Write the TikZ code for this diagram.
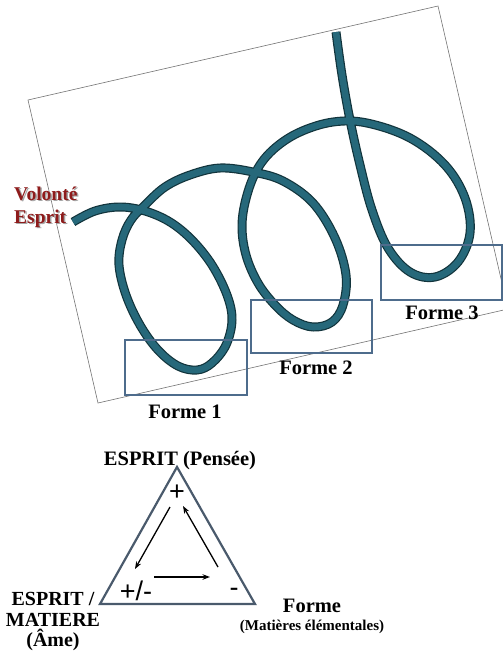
\documentclass[tikz,border=0pt]{standalone}
\usepackage{fontspec}
\setmainfont{Liberation Serif}
\setsansfont{Liberation Sans}
\usetikzlibrary{arrows.meta}
\definecolor{spiralfill}{HTML}{26687A}
\definecolor{spiraledge}{HTML}{12343C}
\definecolor{boxcol}{HTML}{4E6C8C}
\definecolor{tricol}{HTML}{4A5A6C}
\definecolor{volcol}{HTML}{8E1B1B}
\tikzset{
  paper/.style={draw=black!55, line width=0.6pt},
  spiralout/.style={draw=spiraledge, line width=9pt, line cap=butt, line join=round},
  spiralin/.style={draw=spiralfill, line width=6.6pt, line cap=butt, line join=round},
  formebox/.style={draw=boxcol, line width=1.6pt},
  biglbl/.style={font=\bfseries\fontsize{20.5}{22}\selectfont, inner sep=0pt},
  smalllbl/.style={font=\bfseries\fontsize{15}{16}\selectfont, inner sep=0pt},
  sign/.style={font=\sffamily\fontsize{27}{28}\selectfont, inner sep=0pt},
  tri/.style={draw=tricol, line width=2.2pt, line join=miter},
  arr/.style={draw=black, line width=1.3pt, -{Stealth[length=7.5pt,width=5.5pt]}}
}
\begin{document}
\begin{tikzpicture}[x=1pt,y=-1pt]
\useasboundingbox (0,0) rectangle (503,654);
\begin{scope}
\clip (0,0) rectangle (503,654);
\draw[paper] (28,100) -- (438,6) -- (508,309) -- (98,403) -- cycle;
\end{scope}
% spiral
\def\spiralpts{(73,222) (95,211) (120,207) (145,211) (170,222) (192,240) (212,265) (227,295) (232,320) (226,345) (212,363) (197,370) (178,366) (158,350) (140,325) (126,295) (119,265) (122,240) (131,220) (145,205) (165,187) (190,175) (220,168) (253,172) (283,181) (313,203) (335,238) (346,275) (343,305) (332,322) (313,327) (293,320) (275,305) (258,283) (246,255) (242,225) (247,195) (258,168) (275,148) (300,132) (333,122) (367,123) (410,138) (445,165) (465,198) (470,233) (458,262) (435,277) (410,272) (388,248) (372,210) (360,165) (350,120) (342,75) (336,32)}
\draw[spiralout] plot[smooth, tension=0.6] coordinates {\spiralpts};
\draw[spiralin] plot[smooth, tension=0.6] coordinates {\spiralpts};
% boxes
\draw[formebox] (125,340) rectangle (247,395);
\draw[formebox] (251,300) rectangle (372,353);
\draw[formebox] (381,245) rectangle (502,300);
\node[biglbl] (f1) at (185,412) {Forme 1};
\node[biglbl] (f2) at (316,368) {Forme 2};
\node[biglbl] (f3) at (442,313) {Forme 3};
% Volonte Esprit
\node[biglbl, anchor=west, align=left, text=black!35, font=\bfseries\fontsize{19.5}{23}\selectfont] (volsh) at (15.5,208.5) {Volonté\\Esprit};
\node[biglbl, anchor=west, align=left, text=volcol, font=\bfseries\fontsize{19.5}{23}\selectfont] (vol) at (14,207) {Volonté\\Esprit};
% triangle
\coordinate (A) at (177,467);
\coordinate (B) at (100,604);
\coordinate (C) at (255,604);
\draw[tri] (A) -- (B) -- (C) -- cycle;
\node[biglbl] (top) at (180,461) {ESPRIT (Pensée)};
\node[biglbl, align=center, font=\bfseries\fontsize{20}{20.5}\selectfont] (bl) at (53,622) {ESPRIT /\\MATIERE\\(Âme)};
\node[biglbl] (fr) at (312,606) {Forme};
\node[smalllbl] (fm) at (312,627) {(Matières élémentales)};
\node[sign] (plus) at (177,493) {+};
\node[sign] (pm) at (136,591) {+/-};
\node[sign] (minus) at (234,592) {-};
\coordinate (a1s) at (170,507);
\coordinate (a1e) at (135,569);
\coordinate (a2s) at (218,567);
\coordinate (a2e) at (183,506);
\coordinate (a3s) at (154,577);
\coordinate (a3e) at (210,577);
\draw[arr] (a1s) -- (a1e);
\draw[arr] (a2s) -- (a2e);
\draw[arr] (a3s) -- (a3e);
\end{tikzpicture}
\end{document}
